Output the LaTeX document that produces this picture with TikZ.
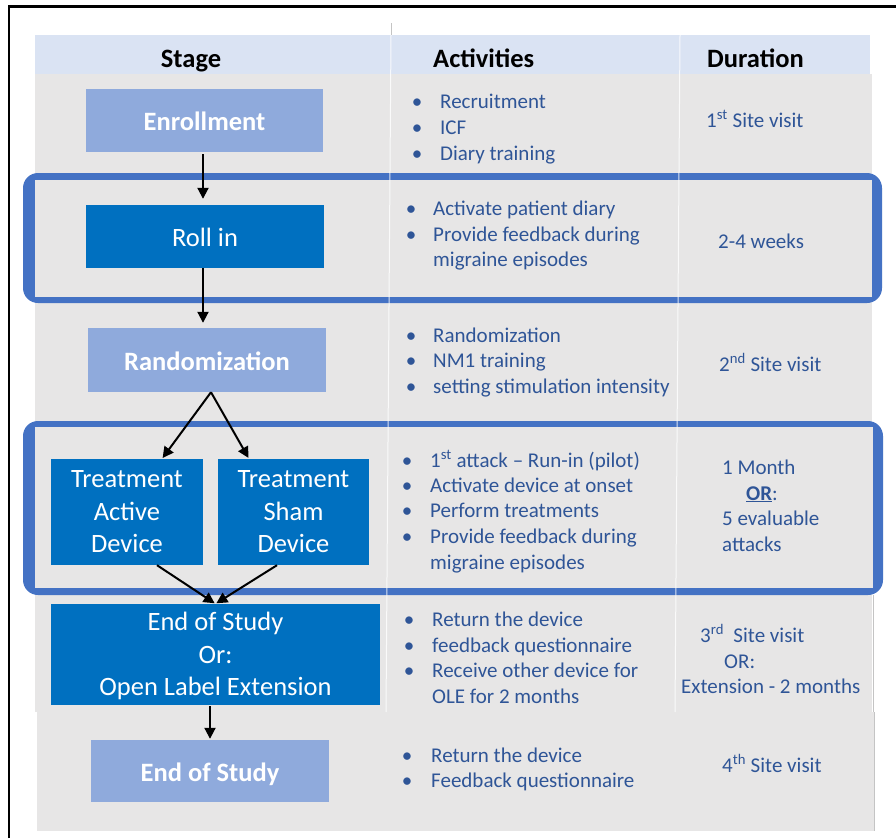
\documentclass[tikz,border=0pt]{standalone}
\usepackage{fontspec}
\setmainfont{Carlito}
\usetikzlibrary{arrows.meta}
\definecolor{hdr}{HTML}{DAE3F3}
\definecolor{cellgray}{HTML}{E7E6E6}
\definecolor{frameblue}{HTML}{4472C4}
\definecolor{boxlight}{HTML}{8FAADC}
\definecolor{boxdark}{HTML}{0070C0}
\definecolor{txtblue}{HTML}{2F5597}
\definecolor{edgegray}{HTML}{C4C4C4}
\newcommand\stagefont{\fontsize{26.5}{32.5}\selectfont}
\newcommand\hdfont{\fontsize{26.5}{32}\selectfont\bfseries}
\newcommand\actfont{\fontsize{21}{25.5}\selectfont}
\begin{document}
\begin{tikzpicture}[x=1pt,y=-1pt,
  stagebox/.style={inner sep=0pt, text=white, font=\stagefont, align=center},
  lightbox/.style={stagebox, fill=boxlight, font=\stagefont\bfseries},
  darkbox/.style={stagebox, fill=boxdark},
  single/.style={text height=20pt, text depth=0pt},
  hdtext/.style={anchor=base, font=\hdfont, inner sep=0pt},
  hdleft/.style={anchor=base west, font=\hdfont, inner sep=0pt},
  act/.style={anchor=base west, font=\actfont, text=txtblue, inner sep=0pt},
  bul/.style={anchor=base, font=\actfont, text=txtblue, inner sep=0pt},
  arr/.style={draw=black, line width=2pt, -{Triangle[length=11pt,width=11pt]}},
]
\useasboundingbox (0,0) rectangle (896,838);
\fill[white] (0,0) rectangle (896,838);
% outer black frame
\draw[line width=2.5pt, line join=miter] (9,838) -- (9,6.7) -- (896,6.7);
% table backgrounds
\fill[hdr] (35,35) rectangle (870,74);
\fill[cellgray] (35,74) rectangle (872,712);
\fill[cellgray] (37,712) rectangle (874,831);
\draw[edgegray, line width=1pt] (873,595) -- (873,712);
\draw[edgegray, line width=1pt] (874,712) -- (874,831);
% highlighted rows
\fill[frameblue, rounded corners=15pt] (23,173) rectangle (882,303);
\fill[cellgray] (35,180) rectangle (872,297);
\fill[frameblue, rounded corners=15pt] (23,421) rectangle (883,595);
\fill[cellgray] (35,427) rectangle (873,588);
% column separators
\draw[edgegray, line width=0.8pt] (391,23) -- (391,35);
\draw[white, line width=1pt, opacity=0.8] (391,35) -- (386,712);
\draw[white, line width=1pt, opacity=0.8] (680,35) -- (675,712);
% headers
\node[hdtext] (hStage) at (191,67) {Stage};
\node[hdleft] (hAct) at (433,67) {Activities};
\node[hdleft] (hDur) at (707,67) {Duration};
% stage boxes
\node[lightbox, single, minimum width=237pt, minimum height=63pt] (enroll) at (204.5,120.5) {Enrollment};
\node[darkbox, single, minimum width=238pt, minimum height=63pt] (rollin) at (205,236.5) {Roll in};
\node[lightbox, single, minimum width=238pt, minimum height=64pt] (rand) at (207,360) {Randomization};
\node[darkbox, minimum width=152pt, minimum height=106pt] (act) at (127,512) {Treatment\\Active\\Device};
\node[darkbox, minimum width=151pt, minimum height=106pt] (sham) at (293.5,512) {Treatment\\Sham\\Device};
\node[darkbox, minimum width=329pt, minimum height=101pt] (eos) at (215.5,654.5) {\rule{0pt}{22pt}End of Study\\Or:\\Open Label Extension};
\node[lightbox, single, minimum width=238pt, minimum height=62pt] (endst) at (210,771) {End of Study};
% arrows
\draw[arr, shorten <=2pt, shorten >=6pt] ([xshift=-1.5pt]enroll.south) -- ([xshift=-1.5pt]enroll.south |- rollin.north);
\draw[arr, shorten >=5pt] ([xshift=-2pt]rollin.south) -- ([xshift=-2pt]rollin.south |- rand.north);
\draw[arr, shorten >=1pt] ([xshift=4pt]rand.south) -- ([xshift=35pt]act.north);
\draw[arr, shorten >=1pt] ([xshift=4pt]rand.south) -- ([xshift=-44.5pt]sham.north);
\draw[arr, shorten >=1pt] ([xshift=30pt]act.south) -- (eos.north);
\draw[arr, shorten >=1pt] ([xshift=-16.5pt]sham.south) -- (eos.north);
\draw[arr, shorten <=1pt, shorten >=1pt] (endst.north |- eos.south) -- (endst.north);
% row 1 activities
\node[bul] (b11) at (417,108) {•};
\node[bul] (b12) at (417,134) {•};
\node[bul] (b13) at (417,160) {•};
\node[act] (a11) at (440,108) {Recruitment};
\node[act] (a12) at (440,134) {ICF};
\node[act] (a13) at (440,160) {Diary training};
\node[act] (d1) at (706,127) {1\textsuperscript{st} Site visit};
% row 2
\node[bul] (b21) at (411,215) {•};
\node[bul] (b22) at (411,241) {•};
\node[act] (a21) at (433,215) {Activate patient diary};
\node[act] (a22) at (433,241) {Provide feedback during};
\node[act] (a23) at (433,266) {migraine episodes};
\node[act] (d2) at (718,248) {2-4 weeks};
% row 3
\node[bul] (b31) at (411,342) {•};
\node[bul] (b32) at (411,367) {•};
\node[bul] (b33) at (411,393) {•};
\node[act] (a31) at (433,342) {Randomization};
\node[act] (a32) at (433,367) {NM1 training};
\node[act] (a33) at (433,393) {setting stimulation intensity};
\node[act] (d3) at (719,371) {2\textsuperscript{nd} Site visit};
% row 4
\node[bul] (b41) at (407,467) {•};
\node[bul] (b42) at (407,492) {•};
\node[bul] (b43) at (407,517) {•};
\node[bul] (b44) at (407,543) {•};
\node[act] (a41) at (430,467) {1\textsuperscript{st} attack – Run-in (pilot)};
\node[act] (a42) at (430,492) {Activate device at onset};
\node[act] (a43) at (430,517) {Perform treatments};
\node[act] (a44) at (430,543) {Provide feedback during};
\node[act] (a45) at (430,569) {migraine episodes};
\node[act] (d41) at (722,474) {1 Month};
\node[act] (d42) at (746,500) {\underline{\textbf{OR}}:};
\node[act] (d43) at (722,525) {5 evaluable};
\node[act] (d44) at (722,551) {attacks};
% row 5
\node[bul] (b51) at (409,626) {•};
\node[bul] (b52) at (409,652) {•};
\node[bul] (b53) at (409,677) {•};
\node[act] (a51) at (432,626) {Return the device};
\node[act] (a52) at (432,652) {feedback questionnaire};
\node[act] (a53) at (432,677) {Receive other device for};
\node[act] (a54) at (432,703) {OLE for 2 months};
\node[act] (d51) at (700,642) {3\textsuperscript{rd}\ \ Site visit};
\node[act] (d52) at (724,668) {OR:};
\node[act] (d53) at (681,693) {Extension - 2 months};
% row 6
\node[bul] (b61) at (407,762) {•};
\node[bul] (b62) at (407,787) {•};
\node[act] (a61) at (431,762) {Return the device};
\node[act] (a62) at (431,787) {Feedback questionnaire};
\node[act] (d6) at (722,772) {4\textsuperscript{th} Site visit};
\end{tikzpicture}
\end{document}
